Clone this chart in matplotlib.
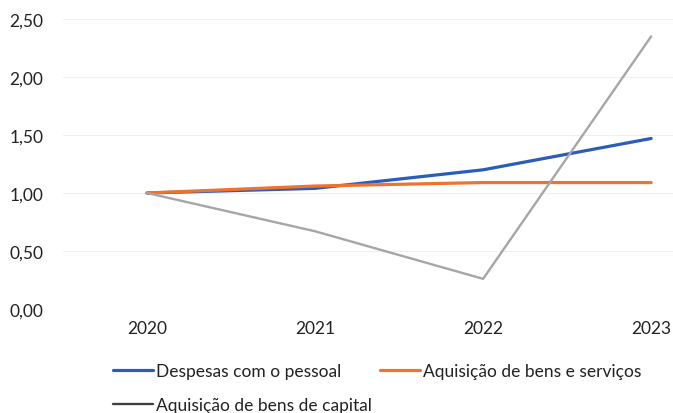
import matplotlib
matplotlib.use("Agg")
import matplotlib.pyplot as plt
from matplotlib.ticker import FuncFormatter

years = ["2020", "2021", "2022", "2023"]
pessoal = [1.00, 1.04, 1.20, 1.47]
bens_servicos = [1.00, 1.06, 1.09, 1.09]
bens_capital = [1.00, 0.67, 0.26, 2.35]
labels = ["Despesas com o pessoal", "Aquisição de bens e serviços", "Aquisição de bens de capital"]
colors = ["#2B5DB8", "#EE7230", "#A6A6A6"]

plt.rcParams['font.family'] = ['Lato', 'DejaVu Sans']

fig = plt.figure(figsize=(6.73, 4.14), dpi=100)
ax = fig.add_axes([63/673, 1-310/414, 1-63/673, 290/414])
x = list(range(len(years)))
l1, = ax.plot(x, pessoal, color=colors[0], lw=2.3, label=labels[0], solid_capstyle='round')
l2, = ax.plot(x, bens_servicos, color=colors[1], lw=2.3, label=labels[1], solid_capstyle='round')
l3, = ax.plot(x, bens_capital, color=colors[2], lw=1.7, label=labels[2], solid_capstyle='round')
ax.set_xlim(-0.5, 3.13)
ax.set_ylim(0, 2.5)
ax.set_yticks([0, 0.5, 1.0, 1.5, 2.0, 2.5])
ax.yaxis.set_major_formatter(FuncFormatter(lambda v, p: f"{v:.2f}".replace(".", ",")))
ax.set_xticks(x)
ax.set_xticklabels(years)
ax.grid(axis='y', color='#EFEFEF', lw=0.8)
ax.set_axisbelow(True)
for s in ax.spines.values():
    s.set_visible(False)
ax.tick_params(axis='both', length=0, labelsize=12.5, colors='#222222')
ax.tick_params(axis='y', pad=14)
ax.tick_params(axis='x', pad=8)

leg = fig.legend(handles=[l1, l3, l2], labels=[labels[0], labels[2], labels[1]], loc='upper left',
                 bbox_to_anchor=(97/673, 1-348/414), ncol=2, frameon=False,
                 fontsize=12.5, handlelength=2.3, handletextpad=0.2,
                 columnspacing=0.45, labelspacing=1.05)
leg.get_lines()[1].set_color('#404040')
for t in leg.get_texts():
    t.set_color('#222222')

fig.savefig("out.png", dpi=100)
